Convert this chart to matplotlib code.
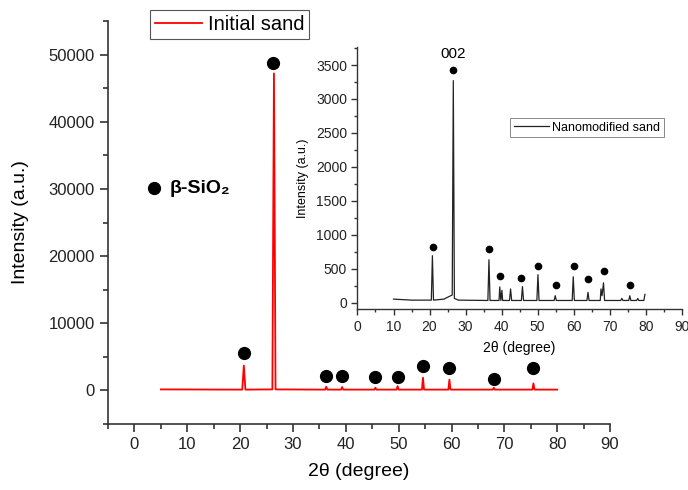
import matplotlib
matplotlib.use("Agg")
import matplotlib.pyplot as plt
from matplotlib.ticker import MultipleLocator

plt.rcParams['font.family'] = ['Liberation Sans', 'DejaVu Sans']

# ---- Main spectrum: initial sand (2theta, intensity) ----
main_2theta = [5, 20.4, 20.7, 21.0, 26.1, 26.4, 26.7, 36.1, 36.3, 36.5, 39.1, 39.3, 39.5,
               45.4, 45.6, 45.8, 49.6, 49.8, 50.0, 54.4, 54.6, 54.8, 59.4, 59.6, 59.8,
               67.8, 68.0, 68.2, 75.3, 75.5, 75.7, 80]
main_intensity = [150, 120, 3700, 120, 150, 47200, 150, 120, 550, 120, 120, 500, 120,
                  120, 400, 120, 120, 640, 120, 120, 1900, 120, 120, 1600, 120,
                  120, 400, 120, 120, 1050, 120, 120]

main_dot_x = [20.7, 26.3, 36.3, 39.3, 45.6, 49.8, 54.6, 59.6, 68.0, 75.5]
main_dot_y = [5500, 48800, 2080, 2080, 2000, 2000, 3660, 3300, 1740, 3270]

# ---- Inset spectrum: nanomodified sand ----
inset_2theta = [10, 15, 20.5, 20.8, 21.1, 24, 25.5, 26.3, 26.6, 26.9, 28, 36.2, 36.5, 36.8,
                39.3, 39.5, 39.8, 40.1, 40.3, 40.6, 42.2, 42.5, 42.8, 45.5, 45.8, 46.1,
                49.8, 50.1, 50.4, 54.6, 54.9, 55.2, 59.6, 59.9, 60.2, 63.7, 64.0, 64.3,
                67.4, 67.6, 67.9, 68.3, 68.6, 73.1, 73.4, 73.7, 75.3, 75.6, 75.9,
                77.5, 77.8, 78.1, 79.5, 79.8]
inset_intensity = [50, 35, 35, 690, 35, 50, 90, 110, 3270, 60, 35, 30, 630, 30,
                   30, 230, 30, 180, 30, 30, 30, 200, 30, 30, 235, 30,
                   30, 410, 30, 30, 100, 30, 30, 380, 30, 30, 150, 30,
                   30, 200, 100, 290, 30, 30, 60, 30, 30, 100, 30,
                   30, 60, 30, 30, 120]

inset_dot_x = [20.9, 26.6, 36.5, 39.5, 45.5, 50.1, 55.0, 60.0, 64.0, 68.3, 75.6]
inset_dot_y = [822, 3427, 790, 393, 355, 532, 261, 532, 345, 463, 261]

fig = plt.figure(figsize=(6.88, 4.90), dpi=100)

# ---- Main axes ----
ax = fig.add_axes([0.157, 0.1347, 0.7297, 0.8224])
ax.plot(main_2theta, main_intensity, color='#ff0000', lw=1.3, label='Initial sand')
ax.plot(main_dot_x, main_dot_y, 'o', color='black', ms=8.5, ls='none')
ax.plot([3.7], [30100], 'o', color='black', ms=8.5)
ax.text(6.6, 30100, 'β-SiO₂', fontsize=14, fontweight='bold', va='center', ha='left')

ax.set_xlim(-5, 90)
ax.set_ylim(-5000, 55000)
ax.xaxis.set_major_locator(MultipleLocator(10))
ax.xaxis.set_minor_locator(MultipleLocator(5))
ax.yaxis.set_major_locator(MultipleLocator(10000))
ax.yaxis.set_minor_locator(MultipleLocator(5000))
for s in ['top', 'right']:
    ax.spines[s].set_visible(False)
for s in ['left', 'bottom']:
    ax.spines[s].set_color('#333333')
    ax.spines[s].set_linewidth(1.2)
ax.tick_params(which='both', direction='out', colors='#333333', labelcolor='#222222')
ax.tick_params(which='major', length=6, width=1.2, labelsize=12)
ax.tick_params(which='minor', length=3.5, width=1.2)
ax.set_xlabel('2θ (degree)', fontsize=14, labelpad=8)
ax.set_ylabel('Intensity (a.u.)', fontsize=14, labelpad=14)
leg = ax.legend(loc='upper left', bbox_to_anchor=(0.084, 1.027), borderaxespad=0,
                fontsize=14.5, fancybox=False, handlelength=2.3, handletextpad=0.3,
                borderpad=0.25, framealpha=1)
leg.get_frame().set_edgecolor('#555555')
leg.get_frame().set_linewidth(0.8)

# ---- Inset axes ----
ins = fig.add_axes([0.5196, 0.3688, 0.4712, 0.5359])
ins.plot(inset_2theta, inset_intensity, color='#222222', lw=0.9, label='Nanomodified sand')
ins.plot(inset_dot_x, inset_dot_y, 'o', color='black', ms=4.5, ls='none')
ins.text(26.6, 3560, '002', fontsize=11, ha='center', va='bottom')
ins.set_xlim(0, 90)
ins.set_ylim(-100, 3770)
ins.xaxis.set_major_locator(MultipleLocator(10))
ins.xaxis.set_minor_locator(MultipleLocator(5))
ins.yaxis.set_major_locator(MultipleLocator(500))
ins.yaxis.set_minor_locator(MultipleLocator(250))
for s in ['top', 'right']:
    ins.spines[s].set_visible(False)
for s in ['left', 'bottom']:
    ins.spines[s].set_color('#333333')
    ins.spines[s].set_linewidth(1.0)
ins.tick_params(which='both', direction='out', colors='#333333', labelcolor='#222222')
ins.tick_params(which='major', length=4, width=1.0, labelsize=10)
ins.tick_params(which='minor', length=2.5, width=1.0)
ins.set_xlabel('2θ (degree)', fontsize=10, labelpad=5)
ins.set_ylabel('Intensity (a.u.)', fontsize=9, labelpad=5)
leg2 = ins.legend(loc='upper left', bbox_to_anchor=(0.470, 0.7285), borderaxespad=0,
                  fontsize=9, fancybox=False, handlelength=2.8, handletextpad=0.3,
                  borderpad=0.3, framealpha=1)
leg2.get_frame().set_edgecolor('#888888')
leg2.get_frame().set_linewidth(0.7)

fig.savefig('out.png', dpi=100)
